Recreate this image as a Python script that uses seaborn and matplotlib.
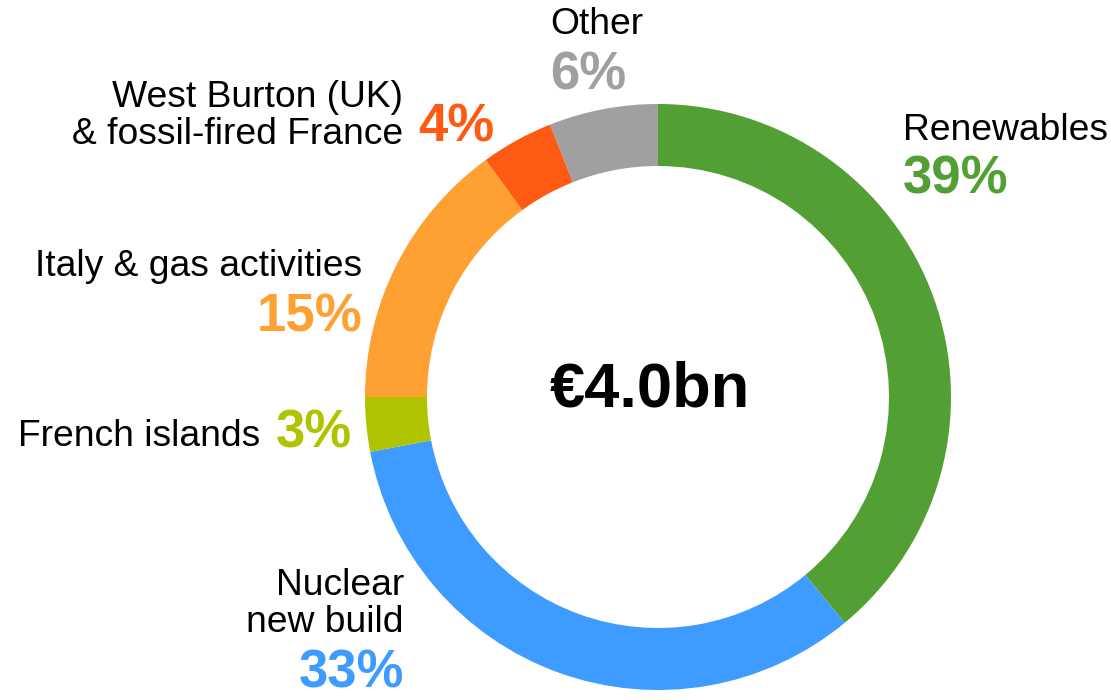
import matplotlib
matplotlib.use("Agg")
import matplotlib.pyplot as plt
import seaborn as sns

sns.set_theme(style="white")
plt.rcParams['font.family'] = ['Liberation Sans', 'DejaVu Sans']
plt.rcParams['text.color'] = 'black'

categories = ["Renewables", "Nuclear\nnew build", "French islands", "Italy & gas activities",
              "West Burton (UK)\n& fossil-fired France", "Other"]
shares = [39, 33, 3, 15, 4, 6]
colors = ["#52A033", "#3E9BFF", "#AFC300", "#FFA033", "#FF5A14", "#A0A0A0"]
total_label = "€4.0bn"

W, H = 1111, 700
fig = plt.figure(figsize=(W / 100, H / 100), dpi=100)
ax = fig.add_axes([0, 0, 1, 1])

cx, cy, R, ring = 658, H - 397, 293, 62
ax.pie(shares, colors=colors, startangle=90, counterclock=False, radius=R,
       center=(cx, cy), wedgeprops=dict(width=ring, linewidth=0), frame=True)
ax.set_xlim(0, W)
ax.set_ylim(0, H)
ax.set_aspect("equal")
ax.axis("off")

def y(p):
    return H - p

lab_fs = 26.8
pct_fs = 38

# Renewables
ax.text(903, y(130), categories[0], fontsize=lab_fs, ha="left", va="center", color="black")
ax.text(903, y(180), f"{shares[0]}%", fontsize=pct_fs, fontweight="bold", color=colors[0], ha="left", va="center")
# Nuclear
ax.text(404, y(604), categories[1], fontsize=lab_fs, ha="right", va="center", linespacing=1.05,
        multialignment="right", color="black")
ax.text(404, y(674), f"{shares[1]}%", fontsize=pct_fs, fontweight="bold", color=colors[1], ha="right", va="center")
# French islands
ax.text(260, y(437), categories[2], fontsize=lab_fs, ha="right", va="center", color="black")
ax.text(276, y(433), f"{shares[2]}%", fontsize=pct_fs, fontweight="bold", color=colors[2], ha="left", va="center")
# Italy
ax.text(362, y(266), categories[3], fontsize=lab_fs, ha="right", va="center", color="black")
ax.text(362, y(318), f"{shares[3]}%", fontsize=pct_fs, fontweight="bold", color=colors[3], ha="right", va="center")
# West Burton
ax.text(403, y(116), categories[4], fontsize=lab_fs, ha="right", va="center", linespacing=1.05,
        multialignment="right", color="black")
ax.text(418, y(128), f"{shares[4]}%", fontsize=pct_fs, fontweight="bold", color=colors[4], ha="left", va="center")
# Other
ax.text(597, y(25), categories[5], fontsize=lab_fs, ha="center", va="center", color="black")
ax.text(588, y(75), f"{shares[5]}%", fontsize=pct_fs, fontweight="bold", color=colors[5], ha="center", va="center")

ax.text(650, y(390), total_label, fontsize=45.5, fontweight="bold", color="black", ha="center", va="center")

fig.savefig("out.png", dpi=100, facecolor="white")
